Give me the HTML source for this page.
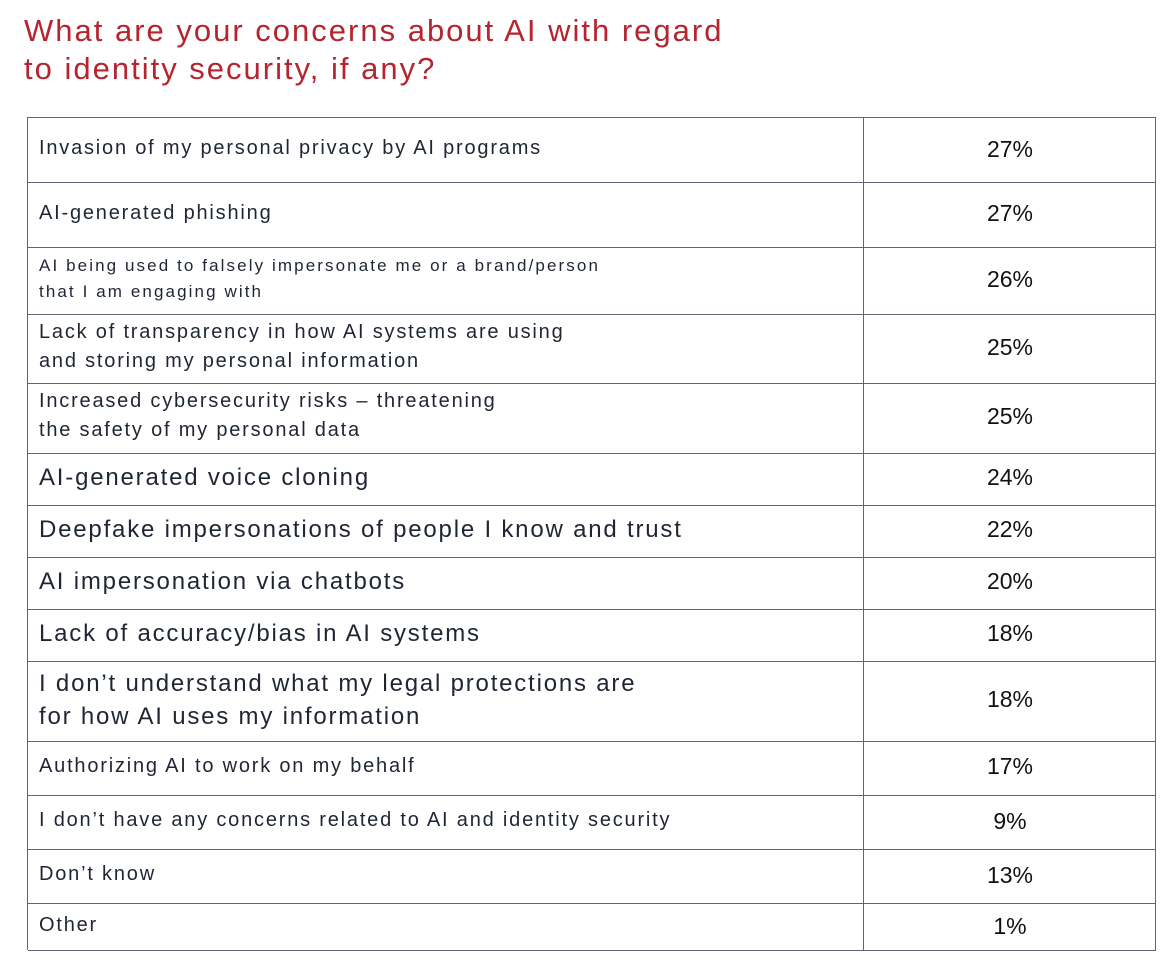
<!DOCTYPE html>
<html><head><style>
body{margin:0;width:1176px;height:976px;background:#fff;position:relative;font-family:"Liberation Sans",sans-serif;overflow:hidden}
.t{position:absolute;left:24px;color:#b5242f;font-size:31px;line-height:38px;top:12px;letter-spacing:2px}
.h{position:absolute;left:28px;width:1128px;height:1px;background:#5f6672}
.v{position:absolute;top:117px;height:833px;width:1px;background:#5f6672}
.l{position:absolute;left:39px;color:#1f2633;display:flex;align-items:center;letter-spacing:1.8px;white-space:nowrap}
.p{position:absolute;left:864px;width:292px;text-align:center;color:#111;font-size:23px;display:flex;align-items:center;justify-content:center}
</style></head><body>
<div class="t">What are your concerns about AI with regard<br>to identity security, if any?</div>
<div class="v" style="left:27px"></div><div class="v" style="left:863px"></div><div class="v" style="left:1155px"></div>
<div class="h" style="top:117px"></div><div class="h" style="top:182px"></div><div class="h" style="top:247px"></div><div class="h" style="top:314px"></div><div class="h" style="top:383px"></div><div class="h" style="top:453px"></div><div class="h" style="top:505px"></div><div class="h" style="top:557px"></div><div class="h" style="top:609px"></div><div class="h" style="top:661px"></div><div class="h" style="top:741px"></div><div class="h" style="top:795px"></div><div class="h" style="top:849px"></div><div class="h" style="top:903px"></div><div class="h" style="top:950px"></div>
<div class="l" style="top:117px;height:62px;font-size:20px">Invasion of my personal privacy by AI programs</div><div class="p" style="top:117px;height:65px">27%</div>
<div class="l" style="top:182px;height:62px;font-size:20px">AI-generated phishing</div><div class="p" style="top:182px;height:62px">27%</div>
<div class="l" style="top:247px;height:64px;font-size:17px;line-height:26px;letter-spacing:2.1px">AI being used to falsely impersonate me or a brand/person<br>that I am engaging with</div><div class="p" style="top:247px;height:64px">26%</div>
<div class="l" style="top:314px;height:66px;font-size:20px;line-height:29px">Lack of transparency in how AI systems are using<br>and storing my personal information</div><div class="p" style="top:314px;height:66px">25%</div>
<div class="l" style="top:383px;height:66px;font-size:20px;line-height:29px">Increased cybersecurity risks – threatening<br>the safety of my personal data</div><div class="p" style="top:383px;height:66px">25%</div>
<div class="l" style="top:453px;height:50px;font-size:24px">AI-generated voice cloning</div><div class="p" style="top:453px;height:48px">24%</div>
<div class="l" style="top:505px;height:50px;font-size:24px">Deepfake impersonations of people I know and trust</div><div class="p" style="top:505px;height:48px">22%</div>
<div class="l" style="top:557px;height:50px;font-size:24px">AI impersonation via chatbots</div><div class="p" style="top:557px;height:48px">20%</div>
<div class="l" style="top:609px;height:50px;font-size:24px">Lack of accuracy/bias in AI systems</div><div class="p" style="top:609px;height:48px">18%</div>
<div class="l" style="top:661px;height:78px;font-size:24px;line-height:33px">I don’t understand what my legal protections are<br>for how AI uses my information</div><div class="p" style="top:661px;height:76px">18%</div>
<div class="l" style="top:741px;height:50px;font-size:20px">Authorizing AI to work on my behalf</div><div class="p" style="top:741px;height:50px">17%</div>
<div class="l" style="top:795px;height:50px;font-size:20px">I don’t have any concerns related to AI and identity security</div><div class="p" style="top:795px;height:52px">9%</div>
<div class="l" style="top:849px;height:50px;font-size:20px">Don’t know</div><div class="p" style="top:849px;height:52px">13%</div>
<div class="l" style="top:903px;height:44px;font-size:20px">Other</div><div class="p" style="top:903px;height:47px">1%</div>
</body></html>
